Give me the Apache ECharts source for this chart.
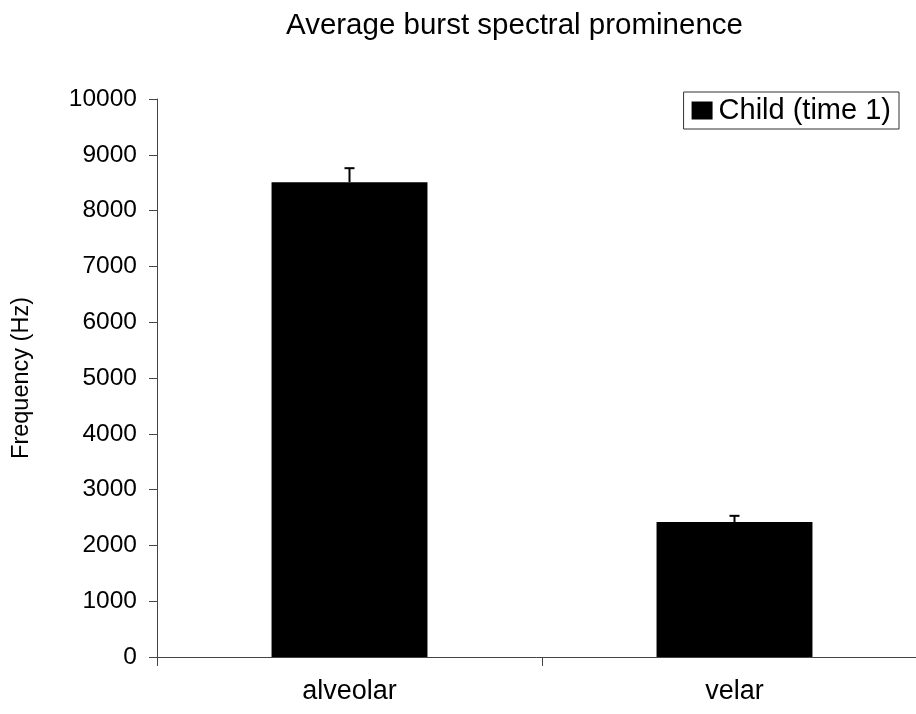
<!DOCTYPE html>
<html><head><meta charset="utf-8">
<script src="https://cdn.jsdelivr.net/npm/echarts@6/dist/echarts.min.js"></script>
<style>html,body{margin:0;padding:0;background:#fff}#c{width:916px;height:714px}</style>
</head><body><div id="c"></div>
<script>
const categories = ['alveolar', 'velar'];
const means = [8510, 2420];
const errorTops = [8760, 2530];
const yTicks = [0, 1000, 2000, 3000, 4000, 5000, 6000, 7000, 8000, 9000, 10000];

const FONT = '"Liberation Sans", Arial, sans-serif';
const chart = echarts.init(document.getElementById('c'));
chart.setOption({
  animation: false,
  backgroundColor: '#fff',
  title: {
    text: 'Average burst spectral prominence',
    left: 281, top: 6,
    textStyle: {fontFamily: FONT, fontSize: 29.5, fontWeight: 'normal', color: '#000'}
  },
  legend: {
    data: ['Child (time 1)'],
    right: 17, top: 92,
    orient: 'vertical',
    borderColor: '#333', borderWidth: 1,
    padding: [4, 8, 4, 8],
    itemWidth: 21, itemHeight: 18, itemGap: 4,
    icon: 'rect',
    textStyle: {fontFamily: FONT, fontSize: 29, color: '#000', padding: [0, 0, 0, 1]}
  },
  grid: {left: 157, width: 770, top: 99, bottom: 57, outerBoundsMode: 'none', containLabel: false},
  xAxis: {
    type: 'category',
    data: categories,
    axisLine: {lineStyle: {color: '#444', width: 1}},
    axisTick: {show: true, length: 9, alignWithLabel: false, lineStyle: {color: '#444'}},
    axisLabel: {fontFamily: FONT, fontSize: 27, color: '#000', margin: 21}
  },
  yAxis: {
    type: 'value',
    min: yTicks[0], max: yTicks[yTicks.length - 1], interval: 1000,
    name: 'Frequency (Hz)',
    nameLocation: 'middle', nameGap: 123,
    nameTextStyle: {fontFamily: FONT, fontSize: 23.5, color: '#000'},
    axisLine: {show: true, lineStyle: {color: '#444', width: 1}},
    axisTick: {show: true, length: 8, lineStyle: {color: '#444'}},
    axisLabel: {fontFamily: FONT, fontSize: 24.5, color: '#000', margin: 20,
      formatter: v => String(v)},
    splitLine: {show: false}
  },
  series: [
    {
      name: 'Child (time 1)',
      type: 'bar',
      data: means,
      barWidth: '40.5%',
      itemStyle: {color: '#000'}
    },
    {
      type: 'custom',
      silent: true,
      data: categories.map((c, i) => [i, means[i], errorTops[i]]),
      renderItem: function (params, api) {
        const x = api.value(0);
        const b = api.coord([x, api.value(1)]);
        const t = api.coord([x, api.value(2)]);
        const hw = 5;
        const st = {stroke: '#000', lineWidth: 2};
        return {type: 'group', children: [
          {type: 'line', shape: {x1: b[0], y1: b[1], x2: t[0], y2: t[1]}, style: st},
          {type: 'line', shape: {x1: t[0] - hw, y1: t[1], x2: t[0] + hw, y2: t[1]}, style: st}
        ]};
      },
      z: 5
    }
  ]
});
</script></body></html>
